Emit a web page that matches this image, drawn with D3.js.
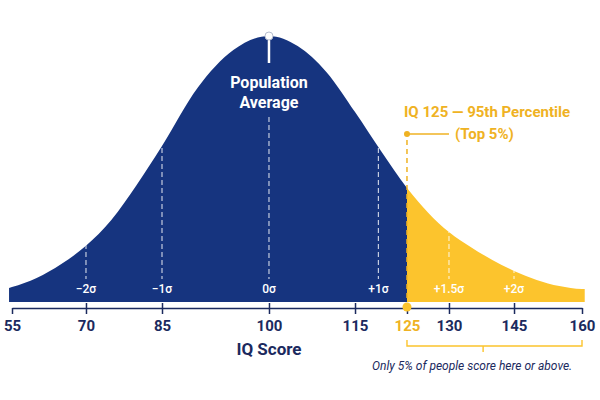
<!DOCTYPE html>
<html>
<head>
<meta charset="utf-8">
<script src="https://cdn.jsdelivr.net/npm/d3@7"></script>
<style>
  html, body { margin: 0; padding: 0; background: #ffffff; }
  svg { display: block; font-family: Roboto, "Noto Sans", sans-serif; }
</style>
</head>
<body>
<svg id="chart" width="600" height="400"></svg>
<script>
// ---------- data ----------
const iqTicks = [55, 70, 85, 100, 115, 125, 130, 145, 160];
const curveIQ = [54.4, 55, 60, 65, 70, 75, 80, 85, 90, 95, 100, 105, 110, 115, 120, 125, 130, 135, 140, 145, 150, 155, 160, 160.6];
const curveDensity = [5.3, 5.6, 9.0, 14.3, 21.1, 30.8, 44.0, 58.6, 80.5, 94.7, 100, 96.2, 86.5, 71.4, 56.8, 42.9, 26.3, 20.7, 15.8, 11.7, 8.3, 6.0, 4.9, 4.9];
const sigmaIQ = [70, 85, 100, 119.5, 130, 145];
const sigmaLabels = ["\u22122\u03c3", "\u22121\u03c3", "0\u03c3", "+1\u03c3", "+1.5\u03c3", "+2\u03c3"];
const meanIQ = 100;
const cutoffIQ = 125;
const axisTitle = "IQ Score";
const meanLabel = ["Population", "Average"];
const cutoffLabel = ["IQ 125 \u2014 95th Percentile", "(Top 5%)"];
const bracketNote = "Only 5% of people score here or above.";

// ---------- layout / style ----------
const W = 600, H = 400;
const tickFrac = [0.02, 0.1433, 0.27, 0.4483, 0.5917, 0.6783, 0.7483, 0.8567, 0.97];
const NAVY = "#16347f", YELLOW = "#fcc42d", YTEXT = "#efb223", INK = "#1b2a5e";
const baseY = 302, peakY = 36, axisY = 308;

const svg = d3.select("#chart");

const x = d3.scaleLinear().domain(iqTicks).range(tickFrac.map(f => f * W));
const y = d3.scaleLinear().domain([0, 100]).range([baseY, peakY]);

const curve = curveIQ.map((iq, i) => ({ iq, d: curveDensity[i] }));
const area = d3.area()
  .x(d => x(d.iq)).y0(y(0)).y1(d => y(d.d))
  .curve(d3.curveMonotoneX);

const defs = svg.append("defs");
defs.append("clipPath").attr("id", "clipLeft")
  .append("rect").attr("x", 0).attr("y", 0).attr("width", x(cutoffIQ)).attr("height", H);
defs.append("clipPath").attr("id", "clipRight")
  .append("rect").attr("x", x(cutoffIQ)).attr("y", 0).attr("width", W - x(cutoffIQ)).attr("height", H);
defs.append("clipPath").attr("id", "clipArea")
  .append("path").attr("d", area(curve));

svg.append("path").attr("d", area(curve)).attr("fill", NAVY).attr("clip-path", "url(#clipLeft)");
svg.append("path").attr("d", area(curve)).attr("fill", YELLOW).attr("clip-path", "url(#clipRight)");

// sigma dashed lines (clipped to the area)
const sigG = svg.append("g").attr("clip-path", "url(#clipArea)");
sigmaIQ.forEach((iq) => {
  const top = iq === meanIQ ? 117 : peakY;
  sigG.append("line")
    .attr("x1", x(iq)).attr("x2", x(iq))
    .attr("y1", top).attr("y2", 279)
    .attr("stroke", "#ffffff").attr("stroke-opacity", 0.75)
    .attr("stroke-width", 1.2).attr("stroke-dasharray", "5,3");
});
svg.append("g").selectAll("text").data(sigmaIQ).join("text")
  .attr("x", d => x(d)).attr("y", 293)
  .attr("text-anchor", "middle")
  .attr("fill", "#ffffff").attr("font-size", 12).attr("font-weight", 500)
  .text((d, i) => sigmaLabels[i]);

// mean marker
svg.append("line")
  .attr("x1", x(meanIQ)).attr("x2", x(meanIQ))
  .attr("y1", y(100)).attr("y2", 63)
  .attr("stroke", "#ffffff").attr("stroke-width", 2.5);
svg.append("circle")
  .attr("cx", x(meanIQ)).attr("cy", y(100)).attr("r", 4)
  .attr("fill", "#ffffff").attr("stroke", "#b8bfd0").attr("stroke-width", 1);
svg.append("g").selectAll("text").data(meanLabel).join("text")
  .attr("x", x(meanIQ)).attr("y", (d, i) => 88 + i * 20)
  .attr("text-anchor", "middle").attr("fill", "#ffffff")
  .attr("font-size", 16).attr("font-weight", 700)
  .text(d => d);

// axis
const axis = d3.axisBottom(x).tickValues(iqTicks).tickFormat(d3.format("d"))
  .tickSizeInner(6).tickSizeOuter(0).tickPadding(6);
const ax = svg.append("g").attr("transform", `translate(0,${axisY})`).call(axis);
ax.select(".domain").attr("stroke", INK).attr("stroke-width", 1.5);
ax.selectAll(".tick line").attr("stroke", INK).attr("stroke-width", 1.5)
  .attr("y1", d => (d === iqTicks[0] || d === iqTicks[iqTicks.length - 1]) ? 0 : -5);
ax.selectAll(".tick text")
  .attr("font-family", "Roboto, sans-serif").attr("font-size", 15).attr("font-weight", 700)
  .attr("fill", d => d === cutoffIQ ? YTEXT : INK);

svg.append("text")
  .attr("x", x(meanIQ)).attr("y", 355)
  .attr("text-anchor", "middle").attr("fill", INK)
  .attr("font-size", 17).attr("font-weight", 700)
  .text(axisTitle);

// cutoff annotation
const cx = x(cutoffIQ);
svg.append("line")
  .attr("x1", cx).attr("x2", cx).attr("y1", 140).attr("y2", baseY)
  .attr("stroke", YTEXT).attr("stroke-width", 1.5).attr("stroke-dasharray", "5,4");
svg.append("circle").attr("cx", cx).attr("cy", 134).attr("r", 3).attr("fill", YTEXT);
svg.append("line").attr("x1", cx).attr("x2", cx + 42).attr("y1", 134).attr("y2", 134)
  .attr("stroke", YTEXT).attr("stroke-width", 1.5);
svg.append("text").attr("x", cx - 3).attr("y", 117)
  .attr("fill", YTEXT).attr("font-size", 15).attr("font-weight", 700)
  .text(cutoffLabel[0]);
svg.append("text").attr("x", cx + 48).attr("y", 139)
  .attr("fill", YTEXT).attr("font-size", 15).attr("font-weight", 700)
  .text(cutoffLabel[1]);
svg.append("circle").attr("cx", cx).attr("cy", axisY - 1).attr("r", 4.5).attr("fill", YELLOW);

// bracket
const bx0 = x(cutoffIQ), bx1 = x(iqTicks[iqTicks.length - 1]);
const bmid = bx0 + 0.435 * (bx1 - bx0);
svg.append("path")
  .attr("d", `M${bx0},340 V346 H${bx1} V340 M${bmid},346 V352`)
  .attr("fill", "none").attr("stroke", YELLOW).attr("stroke-width", 1.4);
svg.append("text").attr("x", bmid - 11).attr("y", 370)
  .attr("text-anchor", "middle").attr("fill", INK)
  .attr("font-size", 12).attr("font-style", "italic")
  .text(bracketNote);
</script>
</body>
</html>
